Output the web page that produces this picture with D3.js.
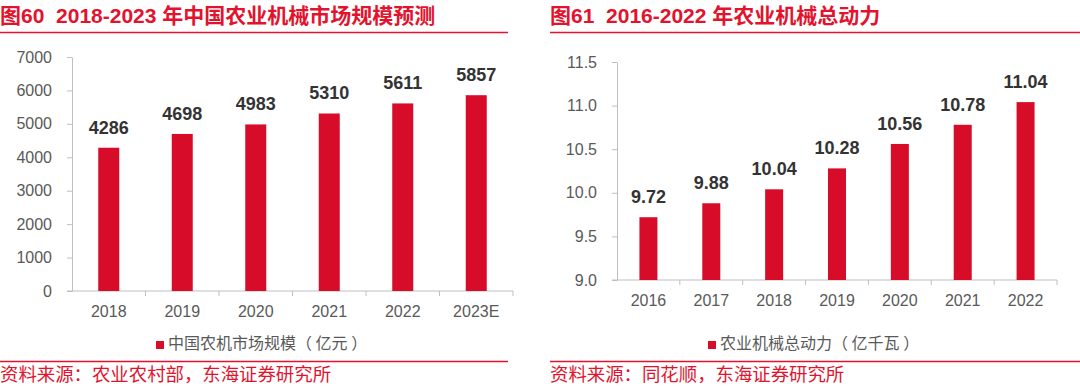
<!DOCTYPE html>
<html lang="zh">
<head>
<meta charset="utf-8">
<script src="https://d3js.org/d3.v7.min.js"></script>
<style>
  body { margin: 0; background: #fff; }
  svg { display: block; font-family: "Liberation Sans", Arial, "Noto Sans CJK SC", sans-serif; }
  .title { fill: #e3122d; font-weight: bold; font-size: 21px; white-space: pre; }
  .source { fill: #e3122d; font-size: 18.4px; font-family: "Noto Sans CJK SC", sans-serif; }
  .tick text { fill: #595959; font-size: 16px; }
  .val { fill: #333; font-weight: bold; font-size: 18px; }
  .legend { fill: #595959; font-size: 16px; font-family: "Noto Sans CJK SC", sans-serif; white-space: pre; }
</style>
</head>
<body>
<svg width="1080" height="390"></svg>
<script>
// left chart: 农机市场规模
var years1 = ["2018", "2019", "2020", "2021", "2022", "2023E"];
var market = [4286, 4698, 4983, 5310, 5611, 5857];
var ticks1 = [0, 1000, 2000, 3000, 4000, 5000, 6000, 7000];

// right chart: 农业机械总动力
var years2 = ["2016", "2017", "2018", "2019", "2020", "2021", "2022"];
var power = [9.72, 9.88, 10.04, 10.28, 10.56, 10.78, 11.04];
var ticks2 = [9.0, 9.5, 10.0, 10.5, 11.0, 11.5];

var red = "#d70c28";
var svg = d3.select("svg");

function panel(o) {
  var g = svg.append("g");
  // title + rule
  g.append("text").attr("class", "title").attr("x", o.left).attr("y", 23).text(o.title);
  g.append("line").attr("x1", o.left).attr("x2", o.right).attr("y1", 32.5).attr("y2", 32.5)
    .attr("stroke", "#e3122d").attr("stroke-width", 1.5);

  var x = d3.scaleBand().domain(o.cats).range([o.x0, o.x1]);
  var y = d3.scaleLinear().domain(o.dom).range([o.yb, o.yt]);

  // y axis
  var ya = g.append("g").attr("transform", "translate(" + o.x0 + ",0)")
    .call(d3.axisLeft(y).tickValues(o.ticks).tickSize(5).tickSizeOuter(0).tickPadding(15).tickFormat(o.fmt));
  ya.selectAll("line, path").attr("stroke", "#bfbfbf");

  // x axis, ticks on band boundaries
  var xa = g.append("g").attr("transform", "translate(0," + o.yb + ")");
  xa.append("line").attr("x1", o.x0 - 5).attr("x2", o.x1).attr("stroke", "#bfbfbf");
  xa.selectAll(".tk").data(o.cats).enter().append("line")
    .attr("x1", function (d) { return x(d) + x.bandwidth(); })
    .attr("x2", function (d) { return x(d) + x.bandwidth(); })
    .attr("y1", 0).attr("y2", 5).attr("stroke", "#bfbfbf");
  xa.selectAll(".lab").data(o.cats).enter().append("text")
    .attr("x", function (d) { return x(d) + x.bandwidth() / 2; })
    .attr("y", 26).attr("text-anchor", "middle")
    .style("fill", "#595959").style("font-size", "16px").text(function (d) { return d; });

  // bars
  g.selectAll(".bar").data(o.vals).enter().append("rect")
    .attr("x", function (d, i) { return x(o.cats[i]) + (x.bandwidth() - o.bw) / 2; })
    .attr("y", function (d) { return y(d); })
    .attr("width", o.bw)
    .attr("height", function (d) { return o.yb - y(d); })
    .attr("fill", red);

  g.selectAll(".val").data(o.vals).enter().append("text")
    .attr("class", "val").attr("text-anchor", "middle")
    .attr("x", function (d, i) { return x(o.cats[i]) + x.bandwidth() / 2; })
    .attr("y", function (d) { return y(d) - 14; })
    .text(o.fmtVal);

  // legend
  g.append("rect").attr("x", o.legX).attr("y", 341).attr("width", 8).attr("height", 8).attr("fill", red);
  g.append("text").attr("class", "legend").attr("x", o.legX + 12).attr("y", 349).text(o.legend);

  // source
  g.append("line").attr("x1", o.left).attr("x2", o.right).attr("y1", 361.5).attr("y2", 361.5)
    .attr("stroke", "#e3122d").attr("stroke-width", 1.5);
  g.append("text").attr("class", "source").attr("x", o.left).attr("y", 381).text(o.source);
}

panel({
  title: "图60  2018-2023 年中国农业机械市场规模预测",
  source: "资料来源：农业农村部，东海证券研究所",
  legend: "中国农机市场规模（ 亿元 ）",
  left: 0, right: 508, x0: 72, x1: 513, yt: 57, yb: 291,
  cats: years1, vals: market, dom: [0, 7000], ticks: ticks1,
  fmt: d3.format("d"), fmtVal: function (d) { return d; },
  bw: 21, legX: 156
});

panel({
  title: "图61  2016-2022 年农业机械总动力",
  source: "资料来源：同花顺，东海证券研究所",
  legend: "农业机械总动力（ 亿千瓦 ）",
  left: 550, right: 1080, x0: 617, x1: 1057, yt: 62, yb: 280,
  cats: years2, vals: power, dom: [9, 11.5], ticks: ticks2,
  fmt: d3.format(".1f"), fmtVal: d3.format(".2f"),
  bw: 18, legX: 708
});
</script>
</body>
</html>
